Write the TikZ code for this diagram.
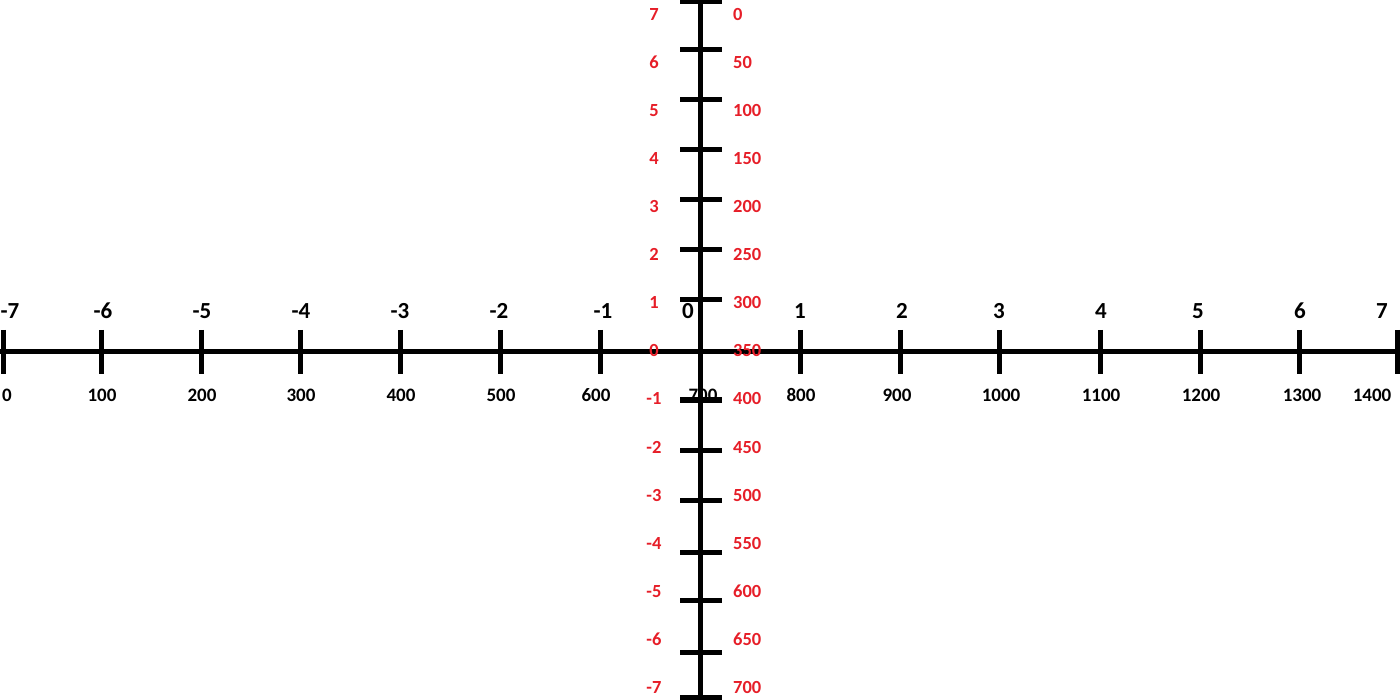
\documentclass[tikz,border=0pt]{standalone}
\usepackage{fontspec}
\setmainfont{Carlito}
\definecolor{axred}{RGB}{230,30,40}
\begin{document}
\begin{tikzpicture}[x=1pt,y=-1pt,
  axis/.style={line width=5pt,black},
  lbl/.style={inner sep=0pt,anchor=base,font=\fontsize{19}{19}\selectfont\bfseries},
  tlbl/.style={inner sep=0pt,anchor=base,font=\fontsize{23}{23}\selectfont\bfseries},
  rlbl/.style={lbl,text=axred,font=\fontsize{18.5}{18.5}\selectfont\bfseries}]
\useasboundingbox (0,0) rectangle (1400,700);
% black bottom labels (under axes)
\foreach \v/\x in {0/7,100/102,200/202,300/301,400/401,500/501,600/596,700/703,800/801,900/897,1000/1001,1100/1101,1200/1201,1300/1302,1400/1372}
  \node[lbl] (b\v) at (\x,401) {\v};
% black top labels
\foreach \n/\v/\x in {m7/-7/10,m6/-6/103,m5/-5/202,m4/-4/301,m3/-3/400,m2/-2/499,m1/-1/603,z/0/688,p1/1/800,p2/2/902,p3/3/999,p4/4/1101,p5/5/1198,p6/6/1300,p7/7/1382}
  \node[tlbl] (t\n) at (\x,319) {\v};
% axes
\coordinate (hl) at (0,352);
\coordinate (hr) at (1400,352);
\coordinate (vt) at (700,0);
\coordinate (vb) at (700,700);
\draw[axis] (hl) -- (hr);
\draw[axis] (vt) -- (vb);
\foreach \x in {3,101,201,300,400,500,600,800,900,999,1100,1200,1299,1397}
  \draw[axis] (\x,330) -- (\x,374);
\foreach \y in {2,50,100,150,200,250,300,400,450,500,552,600,652,697}
  \draw[axis] (680,\y) -- (722,\y);
% red labels
\foreach \k in {0,...,14}{
  \pgfmathtruncatemacro{\val}{7-\k}
  \pgfmathtruncatemacro{\pix}{50*\k}
  \pgfmathsetmacro{\yy}{21+48*\k}
  \node[rlbl] (l\k) at (654,\yy) {\val};
  \node[rlbl,anchor=base west] (r\k) at (733,\yy) {\pix};
}
\end{tikzpicture}
\end{document}
